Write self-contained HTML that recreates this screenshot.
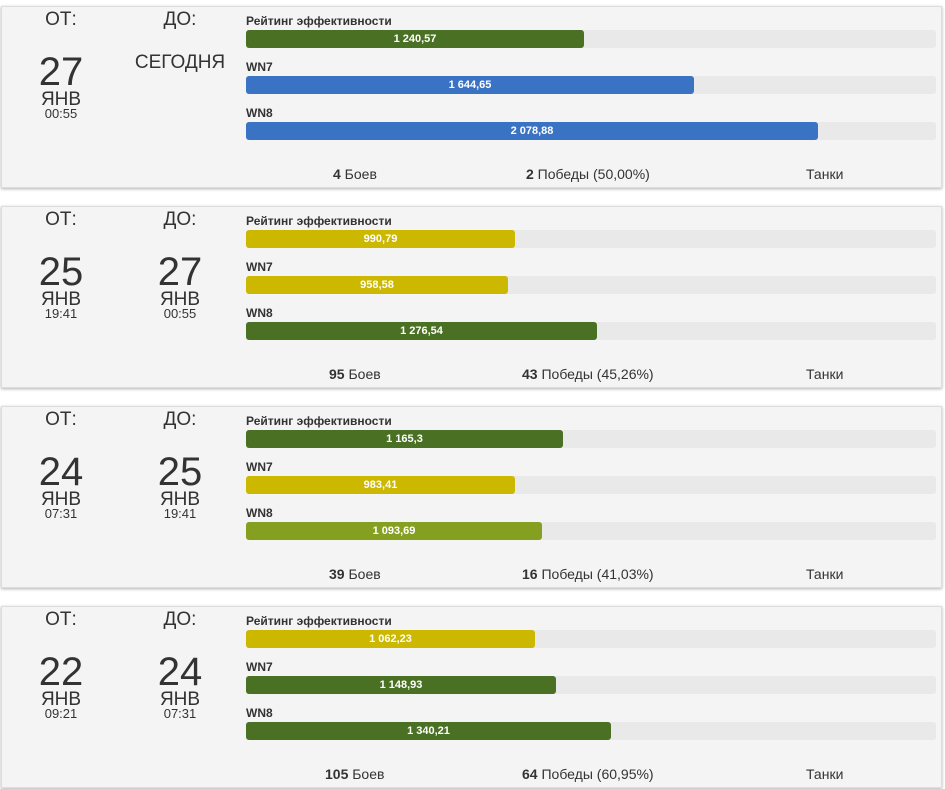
<!DOCTYPE html><html><head><meta charset="utf-8"><style>
body{margin:0;background:#fff;font-family:"Liberation Sans",Arial,sans-serif;color:#333;width:945px;height:789px;overflow:hidden;position:relative}
.p{position:absolute;left:1px;width:939px;height:180px;background:#f4f4f4;border:1px solid #ddd;box-shadow:0 1px 3px rgba(0,0,0,.3)}
.a{position:absolute;text-align:center;width:120px}
.h{top:2px;font-size:19px}
.n{top:43px;font-size:40px;line-height:44px;color:#333}
.m{top:83px;font-size:19px;line-height:20px}
.t{top:99px;font-size:13px}
.s{top:45px;font-size:19px}
.l{position:absolute;left:244px;font-size:12px;font-weight:bold;color:#333}
.tr{position:absolute;left:244px;width:690px;height:18px;background:#e9e9e9;border-radius:3px}
.b{height:18px;border-radius:3px;color:#fff;font-size:11px;font-weight:bold;text-align:center;line-height:18px}
.f{position:absolute;top:159px;font-size:14px;color:#333}
</style></head><body>
<div class="p" style="top:6px">
<div class="a h" style="left:-1px">ОТ:</div><div class="a h" style="left:118px">ДО:</div>
<div class="a n" style="left:-1px">27</div><div class="a m" style="left:-1px">ЯНВ</div><div class="a t" style="left:-1px">00:55</div>
<div class="a s" style="left:118px">СЕГОДНЯ</div>
<div class="l" style="top:7px">Рейтинг эффективности</div><div class="tr" style="top:23px"><div class="b" style="width:338px;background:#4a7023">1 240,57</div></div>
<div class="l" style="top:53px">WN7</div><div class="tr" style="top:69px"><div class="b" style="width:448px;background:#3a72c4">1 644,65</div></div>
<div class="l" style="top:99px">WN8</div><div class="tr" style="top:115px"><div class="b" style="width:572px;background:#3a72c4">2 078,88</div></div>
<div class="f" style="left:331px"><b>4</b> Боев</div><div class="f" style="left:524px"><b>2</b> Победы (50,00%)</div><div class="f" style="left:804px">Танки</div>
</div>
<div class="p" style="top:206px">
<div class="a h" style="left:-1px">ОТ:</div><div class="a h" style="left:118px">ДО:</div>
<div class="a n" style="left:-1px">25</div><div class="a m" style="left:-1px">ЯНВ</div><div class="a t" style="left:-1px">19:41</div>
<div class="a n" style="left:118px">27</div><div class="a m" style="left:118px">ЯНВ</div><div class="a t" style="left:118px">00:55</div>
<div class="l" style="top:7px">Рейтинг эффективности</div><div class="tr" style="top:23px"><div class="b" style="width:269px;background:#ccb800">990,79</div></div>
<div class="l" style="top:53px">WN7</div><div class="tr" style="top:69px"><div class="b" style="width:262px;background:#ccb800">958,58</div></div>
<div class="l" style="top:99px">WN8</div><div class="tr" style="top:115px"><div class="b" style="width:351px;background:#4a7023">1 276,54</div></div>
<div class="f" style="left:327px"><b>95</b> Боев</div><div class="f" style="left:520px"><b>43</b> Победы (45,26%)</div><div class="f" style="left:804px">Танки</div>
</div>
<div class="p" style="top:406px">
<div class="a h" style="left:-1px">ОТ:</div><div class="a h" style="left:118px">ДО:</div>
<div class="a n" style="left:-1px">24</div><div class="a m" style="left:-1px">ЯНВ</div><div class="a t" style="left:-1px">07:31</div>
<div class="a n" style="left:118px">25</div><div class="a m" style="left:118px">ЯНВ</div><div class="a t" style="left:118px">19:41</div>
<div class="l" style="top:7px">Рейтинг эффективности</div><div class="tr" style="top:23px"><div class="b" style="width:317px;background:#4a7023">1 165,3</div></div>
<div class="l" style="top:53px">WN7</div><div class="tr" style="top:69px"><div class="b" style="width:269px;background:#ccb800">983,41</div></div>
<div class="l" style="top:99px">WN8</div><div class="tr" style="top:115px"><div class="b" style="width:296px;background:#85a021">1 093,69</div></div>
<div class="f" style="left:327px"><b>39</b> Боев</div><div class="f" style="left:520px"><b>16</b> Победы (41,03%)</div><div class="f" style="left:804px">Танки</div>
</div>
<div class="p" style="top:606px">
<div class="a h" style="left:-1px">ОТ:</div><div class="a h" style="left:118px">ДО:</div>
<div class="a n" style="left:-1px">22</div><div class="a m" style="left:-1px">ЯНВ</div><div class="a t" style="left:-1px">09:21</div>
<div class="a n" style="left:118px">24</div><div class="a m" style="left:118px">ЯНВ</div><div class="a t" style="left:118px">07:31</div>
<div class="l" style="top:7px">Рейтинг эффективности</div><div class="tr" style="top:23px"><div class="b" style="width:289px;background:#ccb800">1 062,23</div></div>
<div class="l" style="top:53px">WN7</div><div class="tr" style="top:69px"><div class="b" style="width:310px;background:#4a7023">1 148,93</div></div>
<div class="l" style="top:99px">WN8</div><div class="tr" style="top:115px"><div class="b" style="width:365px;background:#4a7023">1 340,21</div></div>
<div class="f" style="left:323px"><b>105</b> Боев</div><div class="f" style="left:520px"><b>64</b> Победы (60,95%)</div><div class="f" style="left:804px">Танки</div>
</div>
</body></html>
